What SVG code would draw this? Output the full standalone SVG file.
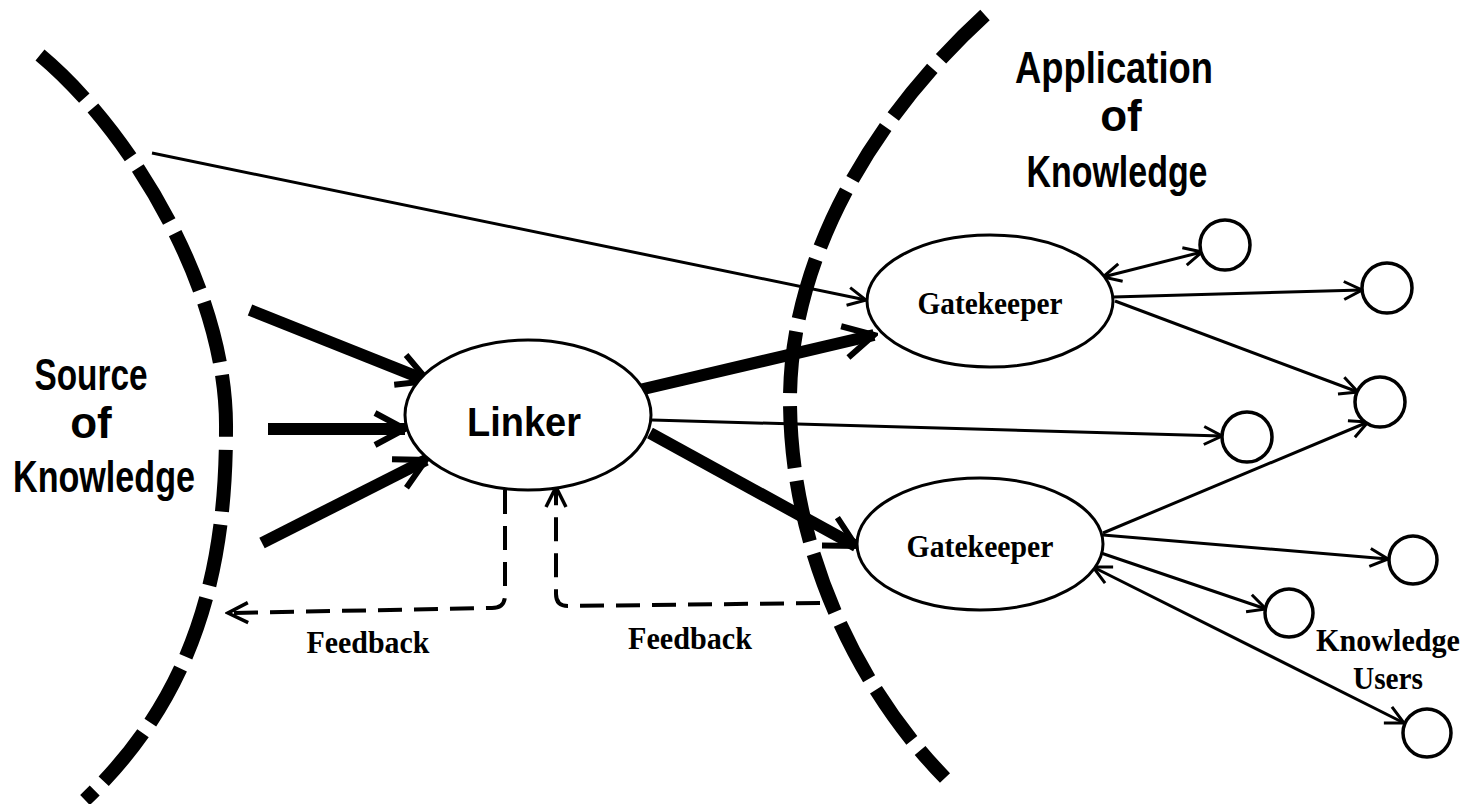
<svg xmlns="http://www.w3.org/2000/svg" width="1471" height="804" viewBox="0 0 1471 804">
<style>
.arc{fill:none;stroke:#000;stroke-width:14;stroke-dasharray:62 13}
.node{fill:#fff;stroke:#000;stroke-width:3}
.user{fill:#fff;stroke:#000;stroke-width:3.5}
.thin{fill:none;stroke:#000;stroke-width:3}
.thick{fill:none;stroke:#000;stroke-width:12}
.fb{fill:none;stroke:#000;stroke-width:4;stroke-dasharray:24 12}
.title{font-family:"Liberation Sans",Arial,sans-serif;font-weight:bold;font-size:44px;text-anchor:middle;fill:#000}
.lbl{font-family:"Liberation Serif","Times New Roman",serif;font-weight:bold;font-size:31px;text-anchor:middle;fill:#000}
</style>
<defs>
<marker id="ah" viewBox="0 0 22 22" markerWidth="22" markerHeight="22" refX="20" refY="11" orient="auto-start-reverse" markerUnits="userSpaceOnUse">
<path d="M2,2 L20,11 L2,20" fill="none" stroke="#000" stroke-width="3" stroke-dasharray="none"/>
</marker>
<marker id="ahk" viewBox="0 0 40 40" markerWidth="40" markerHeight="40" refX="36" refY="20" orient="auto" markerUnits="userSpaceOnUse">
<path d="M6,4 L36,20 L6,36" fill="none" stroke="#000" stroke-width="6"/>
</marker>
<marker id="ahf" viewBox="0 0 26 26" markerWidth="26" markerHeight="26" refX="23" refY="13" orient="auto" markerUnits="userSpaceOnUse">
<path d="M3,3 L23,13 L3,23" fill="none" stroke="#000" stroke-width="3.5" stroke-dasharray="none"/>
</marker>
</defs>
<rect width="1471" height="804" fill="#fff"/>

<g id="boundaries">
<path class="arc" d="M 40 55 C 130 130, 228 290, 226 430 C 226 580, 190 700, 85 800"/>
<path class="arc" d="M 985 15 C 870 120, 790 260, 790 400 C 790 540, 850 680, 945 778"/>
</g>

<g id="connectors">
<line class="thin" x1="152" y1="153" x2="866" y2="300" marker-end="url(#ah)"/>
<line class="thick" x1="250" y1="310" x2="428" y2="381" marker-end="url(#ahk)"/>
<line class="thick" x1="268" y1="429" x2="405" y2="429" marker-end="url(#ahk)"/>
<line class="thick" x1="262" y1="543" x2="426" y2="460" marker-end="url(#ahk)"/>
<line class="thick" x1="635" y1="391" x2="874" y2="335" marker-end="url(#ahk)"/>
<line class="thick" x1="650" y1="433" x2="856" y2="546" marker-end="url(#ahk)"/>
<line class="thin" x1="652" y1="420" x2="1222" y2="436" marker-end="url(#ah)"/>
<path class="fb" d="M 505 490 L 505 595 Q 505 608 492 608 L 228 613" marker-end="url(#ahf)"/>
<path class="fb" d="M 820 603 L 568 606 Q 556 606 556 594 L 556 487" marker-end="url(#ahf)"/>
<line class="thin" x1="1103" y1="277" x2="1202" y2="252" marker-start="url(#ah)" marker-end="url(#ah)"/>
<line class="thin" x1="1113" y1="297" x2="1362" y2="290" marker-end="url(#ah)"/>
<line class="thin" x1="1115" y1="301" x2="1358" y2="392" marker-end="url(#ah)"/>
<line class="thin" x1="1103" y1="533" x2="1368" y2="422" marker-end="url(#ah)"/>
<line class="thin" x1="1103" y1="535" x2="1388" y2="559" marker-end="url(#ah)"/>
<line class="thin" x1="1101" y1="553" x2="1266" y2="609" marker-end="url(#ah)"/>
<line class="thin" x1="1093" y1="567" x2="1404" y2="723" marker-start="url(#ah)" marker-end="url(#ah)"/>
</g>

<g id="linker">
<ellipse class="node" cx="528" cy="415" rx="123" ry="75"/>
<text class="title" x="524" y="436" style="font-size:40px" textLength="114" lengthAdjust="spacingAndGlyphs">Linker</text>
</g>

<g id="gatekeeper-top">
<ellipse class="node" cx="990" cy="301" rx="123" ry="66"/>
<text class="lbl" x="990" y="314" textLength="145" lengthAdjust="spacingAndGlyphs">Gatekeeper</text>
</g>

<g id="gatekeeper-bottom">
<ellipse class="node" cx="980" cy="544" rx="123" ry="66"/>
<text class="lbl" x="980" y="557" textLength="147" lengthAdjust="spacingAndGlyphs">Gatekeeper</text>
</g>

<g id="users">
<circle class="user" cx="1225" cy="245" r="25"/>
<circle class="user" cx="1387" cy="288" r="25"/>
<circle class="user" cx="1380" cy="402" r="25"/>
<circle class="user" cx="1247" cy="437" r="25"/>
<circle class="user" cx="1413" cy="560" r="24"/>
<circle class="user" cx="1289" cy="613" r="24"/>
<circle class="user" cx="1427" cy="733" r="24"/>
</g>

<g id="source-label">
<text class="title" x="91" y="390" textLength="113" lengthAdjust="spacingAndGlyphs">Source</text>
<text class="title" x="91" y="438">of</text>
<text class="title" x="104" y="492" textLength="182" lengthAdjust="spacingAndGlyphs">Knowledge</text>
</g>

<g id="application-label">
<text class="title" x="1114" y="83" textLength="198" lengthAdjust="spacingAndGlyphs">Application</text>
<text class="title" x="1121" y="131">of</text>
<text class="title" x="1117" y="187" textLength="181" lengthAdjust="spacingAndGlyphs">Knowledge</text>
</g>

<g id="feedback-labels">
<text class="lbl" x="368" y="653" textLength="123" lengthAdjust="spacingAndGlyphs">Feedback</text>
<text class="lbl" x="690" y="649" textLength="124" lengthAdjust="spacingAndGlyphs">Feedback</text>
</g>

<g id="users-label">
<text class="lbl" x="1388" y="651" textLength="144" lengthAdjust="spacingAndGlyphs">Knowledge</text>
<text class="lbl" x="1388" y="689" textLength="70" lengthAdjust="spacingAndGlyphs">Users</text>
</g>
</svg>
